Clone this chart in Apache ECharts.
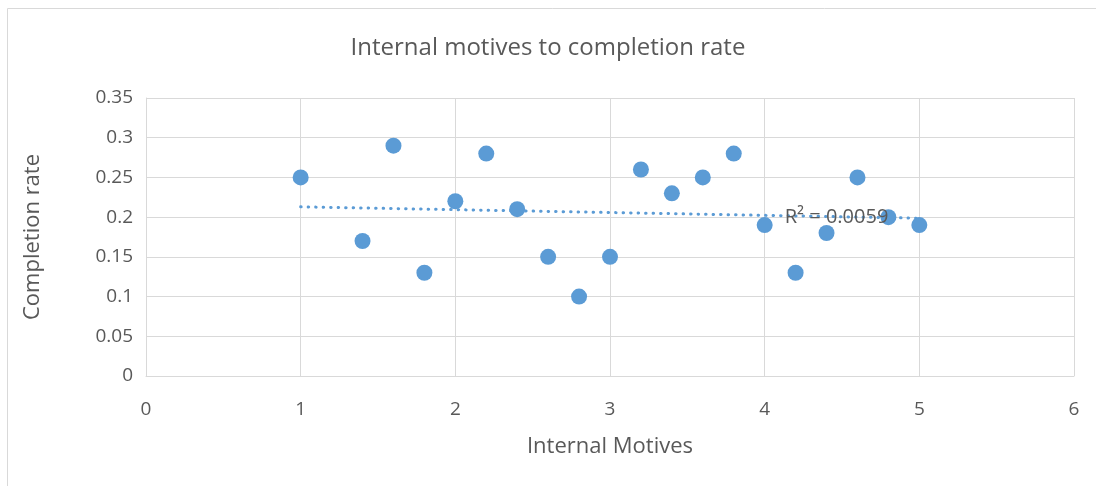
<!DOCTYPE html>
<html>
<head>
<meta charset="utf-8">
<script src="https://cdn.jsdelivr.net/npm/echarts@6/dist/echarts.min.js"></script>
<style>
  html, body { margin: 0; padding: 0; background: #fff; }
  #chart { width: 1096px; height: 486px; }
</style>
</head>
<body>
<div id="chart"></div>
<script>
// Internal motives score vs. completion rate
const motives = [1, 1.4, 1.6, 1.8, 2, 2.2, 2.4, 2.6, 2.8, 3, 3.2, 3.4, 3.6, 3.8, 4, 4.2, 4.4, 4.6, 4.8, 5];
const completion = [0.25, 0.17, 0.29, 0.13, 0.22, 0.28, 0.21, 0.15, 0.10, 0.15, 0.26, 0.23, 0.25, 0.28, 0.19, 0.13, 0.18, 0.25, 0.20, 0.19];
const xTicks = [0, 1, 2, 3, 4, 5, 6];
const yTicks = [0, 0.05, 0.1, 0.15, 0.2, 0.25, 0.3, 0.35];
const rSquaredLabel = 'R² = 0.0059';

// Least-squares linear trend
const n = motives.length;
const mx = motives.reduce((a, b) => a + b, 0) / n;
const my = completion.reduce((a, b) => a + b, 0) / n;
let sxy = 0, sxx = 0;
for (let i = 0; i < n; i++) {
  sxy += (motives[i] - mx) * (completion[i] - my);
  sxx += (motives[i] - mx) * (motives[i] - mx);
}
const slope = sxy / sxx;
const intercept = my - slope * mx;
const xMin = Math.min(...motives), xMax = Math.max(...motives);
const trend = [[xMin, intercept + slope * xMin], [xMax, intercept + slope * xMax]];

const font = "'Open Sans', sans-serif";
const textColor = '#595959';
const blue = '#5B9BD5';

const chart = echarts.init(document.getElementById('chart'));
chart.setOption({
  animation: false,
  title: {
    text: 'Internal motives to completion rate',
    left: 'center',
    top: 31,
    textStyle: { fontFamily: font, fontSize: 24, fontWeight: 'normal', color: textColor }
  },
  graphic: [{
    type: 'rect',
    shape: { x: 7.5, y: 8.5, width: 1200, height: 600 },
    style: { fill: 'none', stroke: '#d9d9d9', lineWidth: 1 },
    silent: true
  }],
  grid: { left: 146, right: 22, top: 98, bottom: 110 },
  xAxis: {
    type: 'value',
    min: xTicks[0], max: xTicks[xTicks.length - 1], interval: 1,
    name: 'Internal Motives',
    nameLocation: 'middle',
    nameGap: 60,
    nameTextStyle: { fontFamily: font, fontSize: 22, color: textColor },
    axisLine: { show: true, lineStyle: { color: '#d9d9d9' } },
    axisTick: { show: false },
    axisLabel: { fontFamily: font, fontSize: 19, color: textColor, margin: 24 },
    splitLine: { show: true, lineStyle: { color: '#d9d9d9', width: 1 } }
  },
  yAxis: {
    type: 'value',
    min: yTicks[0], max: yTicks[yTicks.length - 1], interval: 0.05,
    name: 'Completion rate',
    nameLocation: 'middle',
    nameGap: 102,
    nameTextStyle: { fontFamily: font, fontSize: 22, color: textColor },
    axisLine: { show: true, lineStyle: { color: '#d9d9d9' } },
    axisTick: { show: false },
    axisLabel: { fontFamily: font, fontSize: 19, color: textColor, margin: 13 },
    splitLine: { show: true, lineStyle: { color: '#d9d9d9', width: 1 } }
  },
  series: [
    {
      type: 'scatter',
      data: motives.map((x, i) => [x, completion[i]]),
      symbolSize: 16,
      itemStyle: { color: blue, opacity: 1 },
      z: 3
    },
    {
      type: 'line',
      data: trend,
      symbol: 'none',
      lineStyle: { color: blue, width: 3, type: [0.5, 7], cap: 'round' },
      z: 2
    }
  ]
});

// R² annotation placed near the right end of the trend line
const labelPos = chart.convertToPixel({ gridIndex: 0 }, [4.13, 0.2]);
chart.setOption({
  graphic: [
    {
      type: 'rect',
      shape: { x: 7.5, y: 8.5, width: 1200, height: 600 },
      style: { fill: 'none', stroke: '#d9d9d9', lineWidth: 1 },
      silent: true
    },
    {
      type: 'text',
      x: labelPos[0],
      y: labelPos[1],
      z: 10,
      style: {
        text: rSquaredLabel,
        fontFamily: "'Open Sans', 'DejaVu Sans', sans-serif",
        fontSize: 20,
        fill: textColor,
        textAlign: 'left',
        textVerticalAlign: 'middle'
      },
      silent: true
    }
  ]
});
</script>
</body>
</html>
